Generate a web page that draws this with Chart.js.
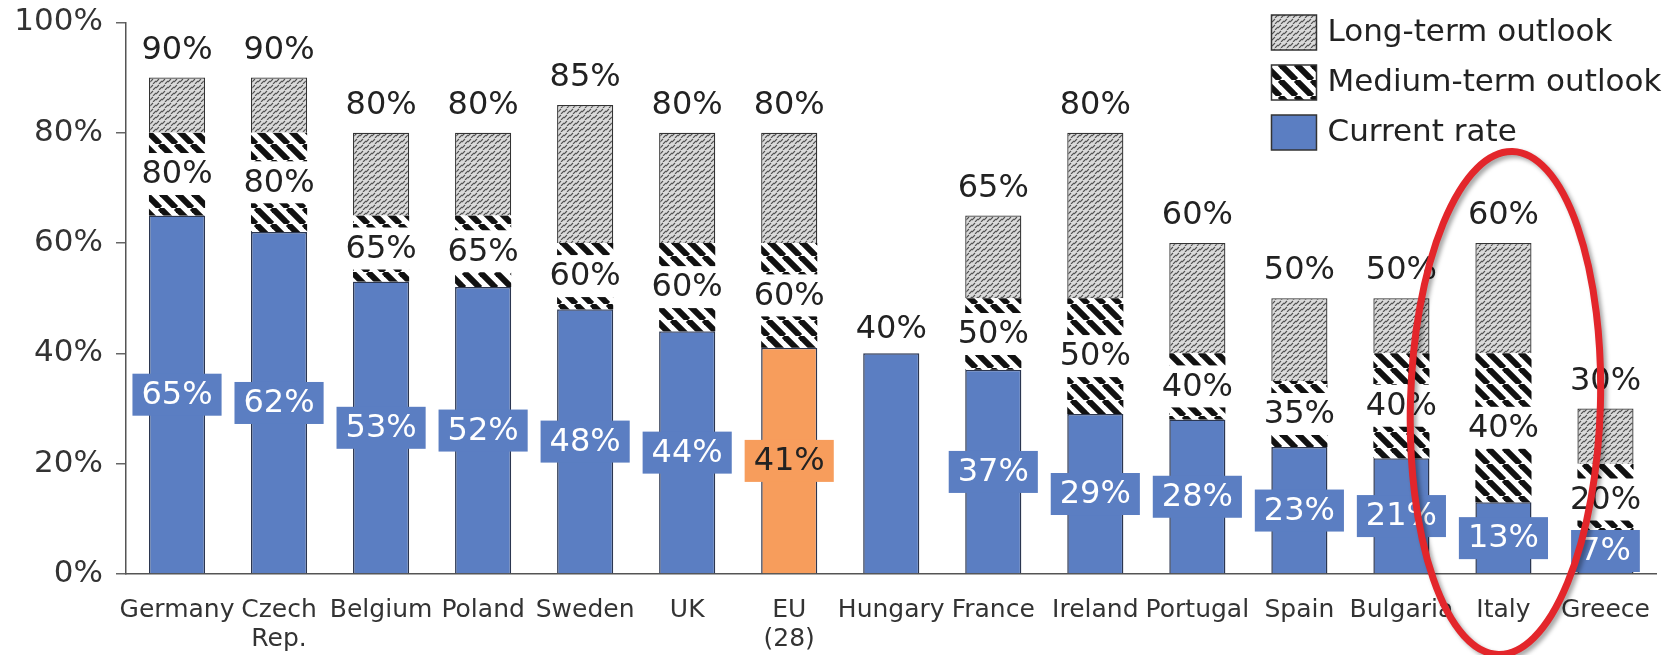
<!DOCTYPE html>
<html>
<head>
<meta charset="utf-8">
<script src="https://cdn.jsdelivr.net/npm/chart.js@4.4.1/dist/chart.umd.min.js"></script>
<style>
  body { margin: 0; background: #fff; }
  #wrap { width: 1672px; height: 655px; }
</style>
</head>
<body>
<div id="wrap"><canvas id="rateChart" width="1672" height="655"></canvas></div>
<script>
// Data
const countries = ['Germany', ['Czech', 'Rep.'], 'Belgium', 'Poland', 'Sweden', 'UK', ['EU', '(28)'], 'Hungary',
  'France', 'Ireland', 'Portugal', 'Spain', 'Bulgaria', 'Italy', 'Greece'];
const currentRate = [65, 62, 53, 52, 48, 44, 41, 40, 37, 29, 28, 23, 21, 13, 7];
const mediumTerm = [80, 80, 65, 65, 60, 60, 60, null, 50, 50, 40, 35, 40, 40, 20];
const longTerm = [90, 90, 80, 80, 85, 80, 80, null, 65, 80, 60, 50, 50, 60, 30];
const yTicks = [0, 20, 40, 60, 80, 100];
const highlight = 'EU (28)';
const circled = 'Italy';

const BLUE = '#5b7ec2';
const ORANGE = '#f79d5c';
const FONT = '"DejaVu Sans", Verdana, sans-serif';

function nameOf(c) { return Array.isArray(c) ? c.join(' ') : c; }

// hatch patterns
function stripePattern() {
  const c = document.createElement('canvas');
  c.width = 16; c.height = 16;
  const g = c.getContext('2d');
  g.fillStyle = '#fff';
  g.fillRect(0, 0, 16, 16);
  g.strokeStyle = '#111';
  g.lineWidth = 6;
  [-16, 0, 16].forEach(k => {
    g.beginPath();
    g.moveTo(k, 0);
    g.lineTo(k + 16, 16);
    g.stroke();
  });
  return g.createPattern(c, 'repeat');
}

function dotPattern() {
  const c = document.createElement('canvas');
  c.width = 6; c.height = 6;
  const g = c.getContext('2d');
  g.fillStyle = '#dadada';
  g.fillRect(0, 0, 6, 6);
  g.strokeStyle = '#505050';
  g.lineWidth = 1.1;
  g.beginPath();
  g.moveTo(0, 4); g.lineTo(3, 1);
  g.moveTo(3, 6); g.lineTo(6, 3);
  g.stroke();
  return g.createPattern(c, 'repeat');
}

const medPattern = stripePattern();
const longPattern = dotPattern();

const currentColors = countries.map(c => nameOf(c) === highlight ? ORANGE : BLUE);
const mediumBars = countries.map((c, i) => mediumTerm[i] == null ? null : [currentRate[i], mediumTerm[i]]);
const longBars = countries.map((c, i) => longTerm[i] == null ? null : [mediumTerm[i], longTerm[i]]);

function labelBox(ctx, x, y, bg, fg, text) {
  const w = ctx.measureText(text).width + 18;
  const h = 42;
  ctx.fillStyle = bg;
  ctx.fillRect(x - w / 2, y - h / 2, w, h);
  ctx.fillStyle = fg;
  ctx.fillText(text, x, y + 1);
}

// value labels on the bars
const barLabels = {
  id: 'barLabels',
  afterDatasetsDraw(chart) {
    const ctx = chart.ctx;
    const ys = chart.scales.y;
    const cur = chart.getDatasetMeta(0).data;
    ctx.save();
    ctx.font = '32px ' + FONT;
    ctx.textAlign = 'center';
    ctx.textBaseline = 'middle';
    countries.forEach((c, i) => {
      const x = cur[i].x;
      if (mediumTerm[i] == null) {
        ctx.fillStyle = '#222';
        ctx.fillText(currentRate[i] + '%', x, cur[i].y - 24);
        return;
      }
      const my = (ys.getPixelForValue(currentRate[i]) + ys.getPixelForValue(mediumTerm[i])) / 2;
      labelBox(ctx, x, my, '#fff', '#222', mediumTerm[i] + '%');

      ctx.fillStyle = '#222';
      ctx.fillText(longTerm[i] + '%', x, ys.getPixelForValue(longTerm[i]) - 27);

      let cy = ys.getPixelForValue(currentRate[i] / 2);
      cy = Math.min(cy, ys.bottom - 23);
      const hl = nameOf(c) === highlight;
      labelBox(ctx, x, cy, hl ? ORANGE : BLUE, hl ? '#222' : '#fff', currentRate[i] + '%');
    });
    ctx.restore();
  }
};

// legend in the top right corner + red ring round Italy
const extras = {
  id: 'extras',
  afterDraw(chart) {
    const ctx = chart.ctx;
    const area = chart.chartArea;
    const items = [['Long-term outlook', longPattern], ['Medium-term outlook', medPattern], ['Current rate', BLUE]];
    ctx.save();
    ctx.font = '31px ' + FONT;
    ctx.textBaseline = 'middle';
    ctx.textAlign = 'left';
    const lx = area.right - 385;
    items.forEach((it, i) => {
      const top = 15 + i * 50;
      ctx.fillStyle = it[1];
      ctx.fillRect(lx, top, 45, 35);
      ctx.strokeStyle = '#333';
      ctx.lineWidth = 1.5;
      ctx.strokeRect(lx, top, 45, 35);
      ctx.fillStyle = '#222';
      ctx.fillText(it[0], lx + 56, top + 18);
    });

    const xs = chart.scales.x;
    const ys = chart.scales.y;
    const idx = countries.findIndex(c => nameOf(c) === circled);
    const cx = xs.getPixelForValue(idx) + 2;
    const cy = ys.getPixelForValue(31);
    const ry = ys.getPixelForValue(0) - ys.getPixelForValue(45.6);
    ctx.shadowColor = 'rgba(0,0,0,0.35)';
    ctx.shadowOffsetX = 3;
    ctx.shadowOffsetY = 3;
    ctx.shadowBlur = 4;
    ctx.strokeStyle = '#e3262b';
    ctx.lineWidth = 7;
    ctx.beginPath();
    ctx.ellipse(cx, cy, 95, ry, 0.028, 0, Math.PI * 2);
    ctx.stroke();
    ctx.restore();
  }
};

const ctx = document.getElementById('rateChart').getContext('2d');
const rateChart = new Chart(ctx, {
  type: 'bar',
  data: {
    labels: countries,
    datasets: [
      {
        label: 'Current rate',
        data: currentRate,
        backgroundColor: currentColors,
        borderColor: '#2b3650',
        borderWidth: 1.5,
        grouped: false,
        order: 3
      },
      {
        label: 'Medium-term outlook',
        data: mediumBars,
        backgroundColor: medPattern,
        borderWidth: 0,
        grouped: false,
        order: 2
      },
      {
        label: 'Long-term outlook',
        data: longBars,
        backgroundColor: longPattern,
        borderColor: '#333',
        borderWidth: 1.3,
        grouped: false,
        order: 1
      }
    ]
  },
  options: {
    responsive: false,
    animation: false,
    events: [],
    barPercentage: 0.55,
    categoryPercentage: 1,
    layout: { padding: { top: 0, right: 1, left: 0, bottom: 0 } },
    plugins: {
      legend: { display: false },
      tooltip: { enabled: false }
    },
    scales: {
      x: {
        grid: { display: false, drawTicks: false },
        border: { display: true, color: '#555', width: 1.5 },
        ticks: {
          autoSkip: false,
          maxRotation: 0,
          minRotation: 0,
          padding: 22,
          color: '#333',
          font: { family: FONT, size: 25, lineHeight: 1.15 }
        },
        afterFit(s) { s.height = 81; }
      },
      y: {
        min: yTicks[0],
        max: yTicks[yTicks.length - 1],
        afterBuildTicks(s) { s.ticks = yTicks.map(v => ({ value: v })); },
        grid: { drawOnChartArea: false, drawTicks: true, tickLength: 10, color: '#666', lineWidth: 1.5 },
        border: { display: true, color: '#555', width: 1.5 },
        ticks: {
          padding: 13,
          color: '#333',
          font: { family: FONT, size: 31, lineHeight: 0.6 },
          callback: v => v + '%'
        },
        afterFit(s) { s.width = 126; }
      }
    }
  },
  plugins: [barLabels, extras]
});
</script>
</body>
</html>
